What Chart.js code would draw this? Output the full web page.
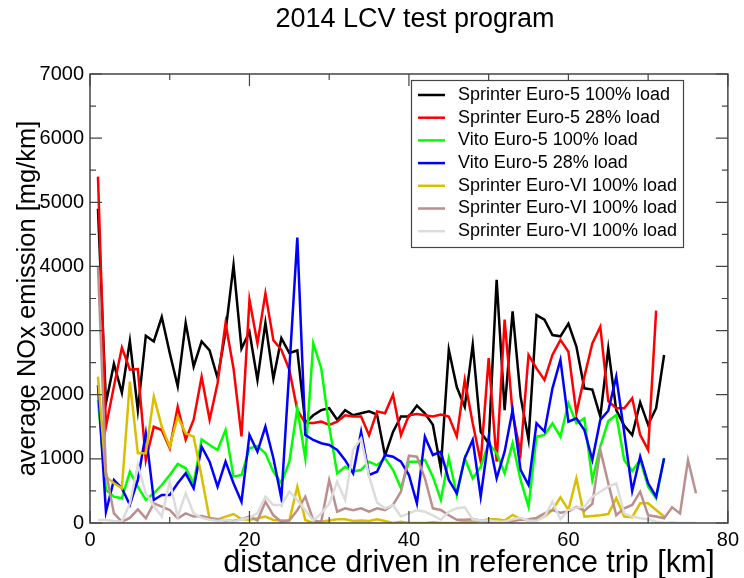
<!DOCTYPE html>
<html>
<head>
<meta charset="utf-8">
<script src="https://cdn.jsdelivr.net/npm/chart.js@4.4.1/dist/chart.umd.min.js"></script>
<style>
  html, body { margin: 0; padding: 0; background: #fff; }
  #chart { display: block; }
</style>
</head>
<body>
<canvas id="chart" width="744" height="578"></canvas>
<script>
// distance driven [km]
const distanceKm = [1,2,3,4,5,6,7,8,9,10,11,12,13,14,15,16,17,18,19,20,
  21,22,23,24,25,26,27,28,29,30,31,32,33,34,35,36,37,38,39,40,
  41,42,43,44,45,46,47,48,49,50,51,52,53,54,55,56,57,58,59,60,
  61,62,63,64,65,66,67,68,69,70,71,72,73,74,75,76];

const seriesLabels = [
  'Sprinter Euro-5 100% load',
  'Sprinter Euro-5 28% load',
  'Vito Euro-5 100% load',
  'Vito Euro-5 28% load',
  'Sprinter Euro-VI 100% load',
  'Sprinter Euro-VI 100% load',
  'Sprinter Euro-VI 100% load'
];
const seriesColors = ['#000000', '#ff0000', '#00ff00', '#0000ff', '#dcbe00', '#bc8f8f', '#dcdcdc'];

// average NOx [mg/km]
const sprinterE5Full = [4900,1870,2480,2030,2840,1760,2920,2830,3210,2650,2130,3120,2440,2830,2690,2260,2980,4020,2720,2980,
  2230,3120,2250,2880,2650,2690,1560,1680,1760,1790,1610,1760,1680,1710,1740,1690,1050,1420,1660,1660,
  1830,1710,1530,850,2700,2120,1810,2780,1420,1240,3790,1760,3300,1970,1300,3240,3170,2930,2910,3110,
  2750,2100,2080,1660,2720,1760,1520,1370,1880,1530,1790,2620];
const sprinterE5Part = [5400,1500,2130,2735,2390,2400,980,1500,1450,1165,1810,1300,1610,2280,1610,2180,3115,2410,1350,3480,
  2800,3580,2850,2700,2390,1760,1560,1560,1580,1530,1580,1680,1660,1660,1370,1740,1710,2000,1370,1680,
  1700,1680,1660,1690,1660,1350,2230,1555,956,2570,956,3170,1710,1090,2620,2410,2230,2620,2855,2670,
  1710,2280,2800,3060,1900,1790,1790,1944,1373,1140,3310];
const vitoE5Full = [1920,515,410,385,800,567,359,463,592,748,920,853,619,1305,1216,1139,1450,723,748,1165,
  1200,1087,800,619,956,1789,1009,2802,2413,1502,775,878,800,830,956,900,1009,830,541,956,
  956,982,723,359,1009,437,1009,697,878,1243,1087,775,1243,671,254,1346,1373,1555,1346,1866,
  1555,1632,671,1190,1590,1684,983,810,983,567,385,1009];
const vitoE5Part = [2150,176,671,541,281,671,1398,359,437,437,619,775,541,1190,956,567,956,619,332,1373,
  1112,1502,1009,385,2400,4450,1373,1295,1243,1216,1139,980,775,1424,748,800,1060,1034,956,748,
  307,1346,1060,1112,671,463,1009,1295,410,1320,697,1112,1762,827,592,1555,1424,2100,2542,1580,
  1632,1450,983,1607,1750,2282,1410,500,1034,619,410,1009];
const sprinterE6A = [2282,723,619,541,2204,1087,1087,1970,1502,1190,1658,1398,1346,720,57,57,100,140,60,50,
  73,100,47,40,40,567,47,0,20,40,57,57,30,40,30,57,30,0,20,0,
  0,0,10,0,0,0,20,20,30,60,60,40,125,60,40,50,100,203,400,203,
  697,100,110,120,140,385,100,90,307,307,203,100];
const sprinterE6B = [4000,800,150,20,80,213,73,307,254,203,73,150,100,109,80,57,40,30,60,100,
  40,332,120,20,40,200,410,40,20,671,176,229,200,229,176,229,200,281,488,1050,
  1034,697,229,203,120,50,50,60,40,20,10,10,30,50,60,80,150,200,160,180,
  250,190,300,1139,619,120,229,281,488,120,100,73,245,150,983,463];
const sprinterE6C = [47,47,30,20,307,904,463,270,100,645,100,463,150,80,50,30,50,20,60,80,
  150,410,280,280,488,360,200,40,150,300,645,360,1139,1320,723,320,229,280,100,150,
  200,176,120,50,176,229,245,57,40,40,20,20,60,80,40,30,100,332,60,200,
  240,254,410,488,567,619,150,100,73,57,20,0,10,0,0,0];

const seriesValues = [sprinterE5Full, sprinterE5Part, vitoE5Full, vitoE5Part, sprinterE6A, sprinterE6B, sprinterE6C];

const xTicks = [0, 20, 40, 60, 80];
const yTicks = [0, 1000, 2000, 3000, 4000, 5000, 6000, 7000];

const FONT = '"Liberation Sans", Arial, sans-serif';

const datasets = seriesValues.map((vals, i) => ({
  label: seriesLabels[i],
  data: vals.map((v, j) => ({ x: distanceKm[j], y: v })),
  borderColor: seriesColors[i],
  backgroundColor: seriesColors[i],
  borderWidth: 2.5,
  pointRadius: 0,
  tension: 0,
  fill: false,
  order: seriesValues.length - i
}));

// frame with inward ticks, titles and boxed legend
const framePlugin = {
  id: 'frame',
  afterDraw(chart) {
    const ctx = chart.ctx;
    const a = chart.chartArea;
    const xs = chart.scales.x, ys = chart.scales.y;
    ctx.save();
    ctx.strokeStyle = '#444';
    ctx.lineWidth = 1.5;
    ctx.strokeRect(a.left, a.top, a.right - a.left, a.bottom - a.top);

    ctx.lineWidth = 1.2;
    ctx.beginPath();
    for (let v = 0; v <= 80; v += 10) {
      const px = xs.getPixelForValue(v);
      const len = v % 20 === 0 ? 12 : 6;
      ctx.moveTo(px, a.bottom); ctx.lineTo(px, a.bottom - len);
      ctx.moveTo(px, a.top); ctx.lineTo(px, a.top + len);
    }
    for (let v = 0; v <= 7000; v += 500) {
      const py = ys.getPixelForValue(v);
      const len = v % 1000 === 0 ? 12 : 6;
      ctx.moveTo(a.left, py); ctx.lineTo(a.left + len, py);
      ctx.moveTo(a.right, py); ctx.lineTo(a.right - len, py);
    }
    ctx.stroke();

    // titles
    ctx.fillStyle = '#000';
    ctx.textAlign = 'center';
    ctx.textBaseline = 'middle';
    ctx.font = '27px ' + FONT;
    ctx.fillText('2014 LCV test program', 415, 20);
    ctx.font = '30.5px ' + FONT;
    ctx.fillText('distance driven in reference trip [km]', 469, 564);
    ctx.save();
    ctx.translate(28, (a.top + a.bottom) / 2);
    ctx.rotate(-Math.PI / 2);
    ctx.font = '25.5px ' + FONT;
    ctx.fillText('average NOx emission [mg/km]', 0, 0);
    ctx.restore();

    // legend
    const lx = 411, ly = 80, lw = 272, lh = 167;
    ctx.fillStyle = '#fff';
    ctx.fillRect(lx, ly, lw, lh);
    ctx.strokeStyle = '#444';
    ctx.lineWidth = 1.2;
    ctx.strokeRect(lx + 0.5, ly + 0.5, lw, lh);
    ctx.font = '18px ' + FONT;
    ctx.textAlign = 'left';
    chart.data.datasets.forEach((ds, i) => {
      const y = 95 + i * 22.7;
      ctx.strokeStyle = ds.borderColor;
      ctx.lineWidth = 2.5;
      ctx.beginPath();
      ctx.moveTo(418, y); ctx.lineTo(445, y);
      ctx.stroke();
      ctx.fillStyle = '#000';
      ctx.fillText(ds.label, 458, y);
    });
    ctx.restore();
  }
};

new Chart(document.getElementById('chart'), {
  type: 'line',
  data: { datasets },
  options: {
    responsive: false,
    animation: false,
    devicePixelRatio: 1,
    layout: { padding: { top: 74, right: 11, left: 0, bottom: 0 } },
    plugins: {
      legend: { display: false },
      title: { display: false },
      tooltip: { enabled: false }
    },
    scales: {
      x: {
        type: 'linear',
        min: 0,
        max: 80,
        afterFit: s => { s.height = 55; },
        afterBuildTicks: s => { s.ticks = xTicks.map(v => ({ value: v })); },
        grid: { display: false, drawTicks: false },
        border: { display: false },
        ticks: { color: '#000', font: { family: FONT, size: 20 }, padding: 5, maxRotation: 0, callback: v => String(v) }
      },
      y: {
        type: 'linear',
        min: 0,
        max: 7000,
        afterFit: s => { s.width = 90; },
        afterBuildTicks: s => { s.ticks = yTicks.map(v => ({ value: v })); },
        grid: { display: false, drawTicks: false },
        border: { display: false },
        ticks: { color: '#000', font: { family: FONT, size: 20 }, padding: 6, callback: v => String(v) }
      }
    }
  },
  plugins: [framePlugin]
});
</script>
</body>
</html>
